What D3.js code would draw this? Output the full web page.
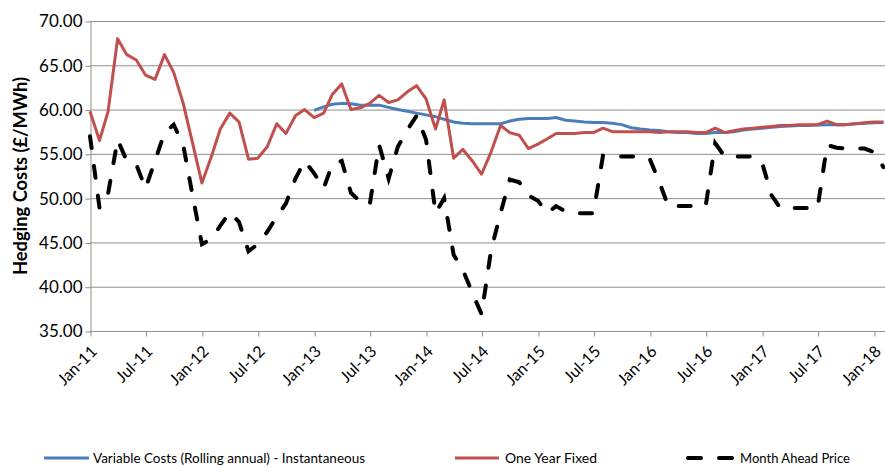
<!DOCTYPE html>
<html>
<head>
<meta charset="utf-8">
<script src="https://cdn.jsdelivr.net/npm/d3@7"></script>
<style>
  body { margin: 0; background: #fff; }
  svg { display: block; font-family: Lato, "Open Sans", sans-serif; }
</style>
</head>
<body>
<svg></svg>
<script>
var WIDTH = 885;
var HEIGHT = 466;

// monthly points, Jan-11 .. Feb-18
var firstMonth = new Date(2011, 0, 1);

var oneYearFixed = [
  59.8, 56.5, 59.8, 68.0, 66.2, 65.6, 63.9, 63.4, 66.2, 64.2, 60.7, 56.3,
  51.7, 54.7, 57.8, 59.6, 58.6, 54.4, 54.5, 55.8, 58.4, 57.3, 59.3, 60.0,
  59.1, 59.6, 61.7, 62.9, 60.0, 60.2, 60.7, 61.6, 60.8, 61.1, 62.0, 62.7,
  61.2, 57.8, 61.1, 54.5, 55.5, 54.2, 52.7, 55.2, 58.2, 57.4, 57.1, 55.6,
  56.1, 56.7, 57.3, 57.3, 57.3, 57.4, 57.4, 57.9, 57.5, 57.5, 57.5, 57.5,
  57.5, 57.4, 57.5, 57.5, 57.5, 57.4, 57.4, 57.9, 57.4, 57.6, 57.8, 57.9,
  58.0, 58.1, 58.2, 58.2, 58.3, 58.3, 58.3, 58.7, 58.3, 58.3, 58.4, 58.5,
  58.6, 58.6
];

var variableCosts = [
  null, null, null, null, null, null, null, null, null, null, null, null,
  null, null, null, null, null, null, null, null, null, null, null, null,
  59.9, 60.3, 60.6, 60.7, 60.65, 60.5, 60.5, 60.5, 60.25, 60.0, 59.8, 59.6,
  59.4, 59.2, 58.9, 58.6, 58.45, 58.4, 58.4, 58.4, 58.4, 58.7, 58.9, 59.0,
  59.0, 59.0, 59.1, 58.8, 58.7, 58.6, 58.55, 58.55, 58.45, 58.3, 57.95, 57.8,
  57.7, 57.65, 57.5, 57.4, 57.4, 57.3, 57.3, 57.4, 57.4, 57.5, 57.7, 57.8,
  57.9, 58.0, 58.1, 58.15, 58.2, 58.2, 58.25, 58.3, 58.3, 58.3, 58.4, 58.45,
  58.5, 58.55
];

var monthAhead = [
  57.0, 48.9, 50.5, 56.6, 54.2, 53.8, 51.1, 54.2, 57.4, 58.3, 56.0, 50.4,
  44.8, 45.4, 46.9, 48.4, 47.3, 44.0, 44.8, 46.2, 47.9, 49.4, 52.2, 54.2,
  52.8, 51.1, 53.8, 54.2, 50.6, 49.6, 49.2, 56.0, 52.2, 55.8, 57.7, 59.3,
  56.6, 48.3, 50.0, 43.6, 41.9, 39.3, 36.9, 44.1, 48.3, 52.1, 51.8, 50.3,
  49.7, 48.3, 49.1, 48.5, 48.3, 48.3, 48.3, 54.8, 54.7, 54.7, 54.7, 54.7,
  54.4, 51.8, 49.1, 49.1, 49.1, 49.1, 49.1, 56.2, 54.7, 54.7, 54.7, 54.7,
  54.0, 50.3, 48.9, 48.9, 48.9, 48.9, 48.9, 56.0, 55.7, 55.6, 55.6, 55.6,
  55.2, 53.5
];

var yTicks = [35, 40, 45, 50, 55, 60, 65, 70];
var xTickLabels = ['Jan-11', 'Jul-11', 'Jan-12', 'Jul-12', 'Jan-13', 'Jul-13', 'Jan-14', 'Jul-14',
                   'Jan-15', 'Jul-15', 'Jan-16', 'Jul-16', 'Jan-17', 'Jul-17', 'Jan-18'];

var seriesNames = ['Variable Costs (Rolling annual) - Instantaneous', 'One Year Fixed', 'Month Ahead Price'];

var svg = d3.select('svg')
  .attr('width', WIDTH)
  .attr('height', HEIGHT);

var plotLeft = 90, plotTop = 21, plotBottom = 331, plotRight = 885;

var parseTick = d3.timeParse('%b-%y');
var xTickDates = xTickLabels.map(function(s){ return parseTick(s); });

var xScale = d3.scaleTime()
  .domain([new Date(2011, 0, 1), new Date(2018, 0, 1)])
  .range([plotLeft, 874]);

var yScale = d3.scaleLinear()
  .domain([35, 70])
  .range([plotBottom, plotTop]);

function monthDate(i){ return d3.timeMonth.offset(firstMonth, i); }

// gridlines
svg.append('g')
  .selectAll('line')
  .data(yTicks)
  .enter()
  .append('line')
  .attr('x1', plotLeft)
  .attr('x2', plotRight)
  .attr('y1', function(d){ return yScale(d) + 0.5; })
  .attr('y2', function(d){ return yScale(d) + 0.5; })
  .attr('stroke', '#8e8e8e')
  .attr('stroke-width', 1);

// y axis
var yAxis = svg.append('g')
  .attr('transform', 'translate(' + (plotLeft + 0.5) + ',0.5)')
  .call(d3.axisLeft(yScale).tickValues(yTicks).tickSize(5).tickSizeOuter(0).tickPadding(3)
        .tickFormat(d3.format('.2f')));
yAxis.select('.domain').attr('stroke', '#8e8e8e');
yAxis.selectAll('.tick line').attr('stroke', '#8e8e8e');
yAxis.selectAll('text')
  .attr('fill', '#000')
  .style('font-size', '17px')
  .style('font-family', 'Lato, sans-serif');

// x axis
var xAxis = svg.append('g')
  .attr('transform', 'translate(0.5,' + (plotBottom + 0.5) + ')')
  .call(d3.axisBottom(xScale).tickValues(xTickDates).tickSize(5).tickSizeOuter(0)
        .tickFormat(d3.timeFormat('%b-%y')));
xAxis.select('.domain').attr('stroke', '#8e8e8e').attr('d', 'M' + plotLeft + ',0H' + plotRight);
xAxis.selectAll('.tick line').attr('stroke', '#8e8e8e');
xAxis.selectAll('text')
  .attr('fill', '#000')
  .style('font-size', '16px')
  .style('font-family', 'Lato, sans-serif')
  .attr('text-anchor', 'end')
  .attr('dy', null)
  .attr('y', 0)
  .attr('transform', 'translate(7,21) rotate(-45)');

// y title
svg.append('text')
  .attr('transform', 'translate(27,' + ((plotTop + plotBottom) / 2) + ') rotate(-90)')
  .attr('text-anchor', 'middle')
  .attr('textLength', 198)
  .attr('lengthAdjust', 'spacingAndGlyphs')
  .style('font-size', '18px')
  .style('font-weight', 'bold')
  .text('Hedging Costs (£/MWh)');

// lines
var line = d3.line()
  .defined(function(d){ return d != null; })
  .x(function(d, i){ return xScale(monthDate(i)); })
  .y(function(d){ return yScale(d); });

svg.append('path')
  .datum(monthAhead)
  .attr('d', line)
  .attr('fill', 'none')
  .attr('stroke', '#000')
  .attr('stroke-width', 4)
  .attr('stroke-linecap', 'round')
  .attr('stroke-dasharray', '12,18');

svg.append('path')
  .datum(variableCosts)
  .attr('d', line)
  .attr('fill', 'none')
  .attr('stroke', '#4a7ebb')
  .attr('stroke-width', 3)
  .attr('stroke-linejoin', 'round');

svg.append('path')
  .datum(oneYearFixed)
  .attr('d', line)
  .attr('fill', 'none')
  .attr('stroke', '#c0504d')
  .attr('stroke-width', 3)
  .attr('stroke-linejoin', 'round');

// legend
var legendY = 458;
var legend = svg.append('g').style('font-size', '14px');

legend.append('line')
  .attr('x1', 44).attr('x2', 89).attr('y1', legendY).attr('y2', legendY)
  .attr('stroke', '#4a7ebb').attr('stroke-width', 3);
legend.append('text')
  .attr('x', 93).attr('y', legendY + 5)
  .attr('textLength', 272).attr('lengthAdjust', 'spacingAndGlyphs')
  .text(seriesNames[0]);

legend.append('line')
  .attr('x1', 455).attr('x2', 499).attr('y1', legendY).attr('y2', legendY)
  .attr('stroke', '#c0504d').attr('stroke-width', 3);
legend.append('text')
  .attr('x', 505).attr('y', legendY + 5)
  .attr('textLength', 92).attr('lengthAdjust', 'spacingAndGlyphs')
  .text(seriesNames[1]);

legend.append('line')
  .attr('x1', 688).attr('x2', 734).attr('y1', legendY).attr('y2', legendY)
  .attr('stroke', '#000').attr('stroke-width', 4)
  .attr('stroke-linecap', 'round')
  .attr('stroke-dasharray', '13,18');
legend.append('text')
  .attr('x', 740).attr('y', legendY + 5)
  .attr('textLength', 110).attr('lengthAdjust', 'spacingAndGlyphs')
  .text(seriesNames[2]);
</script>
</body>
</html>
